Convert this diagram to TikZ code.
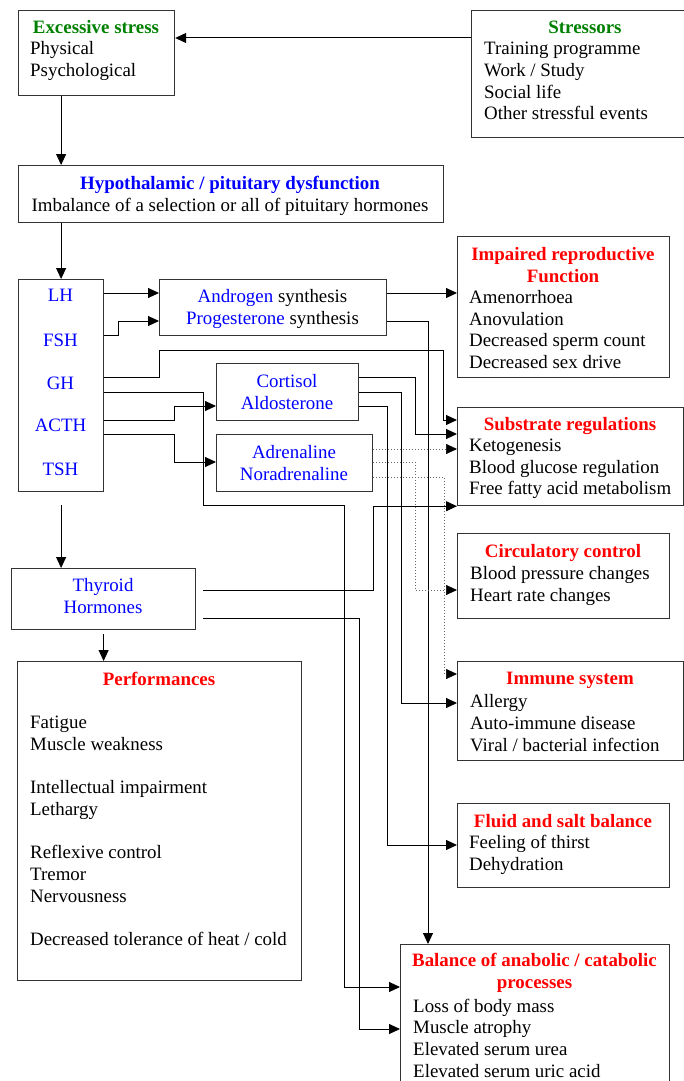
\documentclass[tikz,border=0pt]{standalone}
\usepackage{fontspec}
\setmainfont{Liberation Serif}
\usetikzlibrary{arrows.meta}
\definecolor{sgreen}{RGB}{0,128,0}
\definecolor{hblue}{RGB}{0,0,255}
\definecolor{ered}{RGB}{255,0,0}
\newcommand{\diagfont}{\fontsize{18.9}{21.7}\selectfont}

\begin{document}
\begin{tikzpicture}[x=1pt,y=-1pt,font=\diagfont,
        box/.style={draw=black!80, line width=1.2pt, anchor=north west, inner sep=0pt},
        ttl/.style={font=\diagfont\bfseries, align=center, inner sep=0pt},
        txt/.style={align=left, anchor=west, inner sep=0pt},
        hor/.style={text=hblue, align=center, inner sep=0pt},
        arr/.style={-{Triangle[length=11pt,width=10pt,black]}, line width=1pt},
        dot/.style={arr, dotted, line width=0.7pt, black!60}]
        \useasboundingbox (0,0) rectangle (684,1081);

        % 1. Stress
        \node[box, minimum width=156, minimum height=85] (excess) at (18,10) {};
        \node[ttl, text=sgreen] (excesst) at (96,27) {Excessive stress};
        \node[txt] (excessb) at (30,61) {Physical\\Psychological};

        \node[box, minimum width=228, minimum height=127] (stressors) at (471,10) {};
        \node[ttl, text=sgreen] (stressorst) at (585,27) {Stressors};
        \node[txt] (stressorsb) at (484,81) {Training programme\\Work / Study\\Social life\\Other stressful events};

        % 2. Hypothalamus
        \node[box, minimum width=425, minimum height=57] (hypo) at (18,165) {};
        \node[ttl, text=hblue] (hypot) at (230,185) {Hypothalamic / pituitary dysfunction};
        \node[inner sep=0pt] (hypob) at (230,207) {Imbalance of a selection or all of pituitary hormones};

        % 3. Hormones
        \node[box, minimum width=85, minimum height=212] (horm) at (18,279) {};
        \node[hor] (lh) at (60.5,295) {LH};
        \node[hor] (fsh) at (60.5,340) {FSH};
        \node[hor] (gh) at (60.5,383) {GH};
        \node[hor] (acth) at (60.5,425) {ACTH};
        \node[hor] (tsh) at (60.5,469) {TSH};

        \node[box, minimum width=227, minimum height=56] (andro) at (159,279) {};
        \node[align=center, inner sep=0pt] (androt) at (272.5,309) {\textcolor{hblue}{Androgen} synthesis\\\textcolor{hblue}{Progesterone} synthesis};

        \node[box, minimum width=142, minimum height=57] (cort) at (216,363) {};
        \node[hor] (cortt) at (287,392) {Cortisol\\Aldosterone};

        \node[box, minimum width=156, minimum height=57] (adren) at (216,434) {};
        \node[hor] (adrent) at (294,463) {Adrenaline\\Noradrenaline};

        \node[box, minimum width=184, minimum height=61] (thyr) at (11,568) {};
        \node[hor] (thyrt) at (103,596) {Thyroid\\Hormones};

        % 4. Effects
        \node[box, minimum width=284, minimum height=319] (perf) at (17,661) {};
        \node[ttl, text=ered] (perft) at (159,679) {Performances};
        \node[txt] (perfb) at (30,831) {Fatigue\\Muscle weakness\\[21.7pt]Intellectual impairment\\Lethargy\\[21.7pt]Reflexive control\\Tremor\\Nervousness\\[21.7pt]Decreased tolerance of heat / cold};

        \node[box, minimum width=212, minimum height=141] (repro) at (457,236) {};
        \node[ttl, text=ered] (reprot) at (563,265) {Impaired reproductive\\Function};
        \node[txt] (reprob) at (469,329.5) {Amenorrhoea\\Anovulation\\Decreased sperm count\\Decreased sex drive};

        \node[box, minimum width=226, minimum height=98] (subst) at (457,407) {};
        \node[ttl, text=ered] (substt) at (570,426) {Substrate regulations};
        \node[txt] (substb) at (469,469) {Ketogenesis\\Blood glucose regulation\\Free fatty acid metabolism};

        \node[box, minimum width=212, minimum height=85] (circ) at (457,533) {};
        \node[ttl, text=ered] (circt) at (563,553) {Circulatory control};
        \node[txt] (circb) at (470,586) {Blood pressure changes\\Heart rate changes};

        \node[box, minimum width=226, minimum height=99] (immune) at (457,661) {};
        \node[ttl, text=ered] (immunet) at (570,680) {Immune system};
        \node[txt] (immuneb) at (470,723) {Allergy\\Auto-immune disease\\Viral / bacterial infection};

        \node[box, minimum width=212, minimum height=84] (fluid) at (457,803) {};
        \node[ttl, text=ered] (fluidt) at (563,821) {Fluid and salt balance};
        \node[txt] (fluidb) at (469,855) {Feeling of thirst\\Dehydration};

        \node[box, minimum width=269, minimum height=146] (bal) at (400,944) {};
        \node[ttl, text=ered] (balt) at (534.5,973) {Balance of anabolic / catabolic\\processes};
        \node[txt] (balb) at (413,1038) {Loss of body mass\\Muscle atrophy\\Elevated serum urea\\Elevated serum uric acid};

        % 5. Connectors
        \coordinate (lhy) at ([yshift=-14]andro.north west);
        \coordinate (fshy) at ([yshift=-42]andro.north west);
        \coordinate (s1) at ([yshift=-13]subst.north west);
        \coordinate (s2) at ([yshift=-27]subst.north west);
        \coordinate (s3) at ([yshift=-42]subst.north west);
        \coordinate (c3) at ([yshift=-43]cort.north west);
        \coordinate (d2) at ([yshift=-28]adren.north west);
        \coordinate (ci1) at ([yshift=-57]circ.north west);
        \coordinate (i1) at ([yshift=-13]immune.north west);
        \coordinate (i2) at ([yshift=-42]immune.north west);
        \coordinate (f1) at ([yshift=-42]fluid.north west);
        \coordinate (b1) at ([yshift=-43]bal.north west);
        \coordinate (b2) at ([yshift=-85]bal.north west);

        \draw[arr] ([yshift=-28]stressors.north west) -- ([yshift=-28]excess.north east);
        \draw[arr] (excess.south -| horm) -- (hypo.north -| horm);
        \draw[arr] (hypo.south -| horm) -- (horm.north);

        \draw[arr] (lhy -| horm.east) -- (lhy);
        \draw[arr] ([yshift=-56]horm.north east) -- ++(14,0) |- (fshy);
        \draw[arr] (lhy -| andro.east) -- (lhy -| repro.west);
        \draw[arr] (fshy -| andro.east) -| ([xshift=28]bal.north west);

        \draw[arr] ([yshift=-98]horm.north east) -| ([yshift=-14]andro.south west) -| ([xshift=-14]s1) -- (s1);
        \draw[arr] ([yshift=-113]horm.north east) -- ++(99,0) -- ++(0,113) -- ++(141,0) |- (b1);
        \draw[arr] ([yshift=-141]horm.north east) -- ++(70,0) |- (c3);
        \draw[arr] ([yshift=-155]horm.north east) -- ++(70,0) |- (d2);

        \draw[arr] ([yshift=-14]cort.north east) -- ++(56,0) |- (s2);
        \draw[arr] ([yshift=-29]cort.north east) -- ++(42,0) |- (i2);
        \draw[arr] ([yshift=-43]cort.north east) -- ++(28,0) |- (f1);

        \draw[dot] ([yshift=-15]adren.north east) -- (s3);
        \draw[dot] ([yshift=-28]adren.north east) -- ++(42,0) |- (ci1);
        \draw[dot] ([yshift=-43]adren.north east) -- ++(71,0) |- (i1);

        \draw[arr] ([xshift=7,yshift=-22]thyr.north east) -- ++(170,0) |- (subst.south west);
        \draw[arr] ([xshift=7,yshift=-50]thyr.north east) -- ++(156,0) |- (b2);
        \draw[arr] ([yshift=-13]horm.south) -- (horm.south |- thyr.north);
        \draw[arr] ([yshift=-4]thyr.south) -- (thyr.south |- perf.north);
    \end{tikzpicture}
\end{document}
